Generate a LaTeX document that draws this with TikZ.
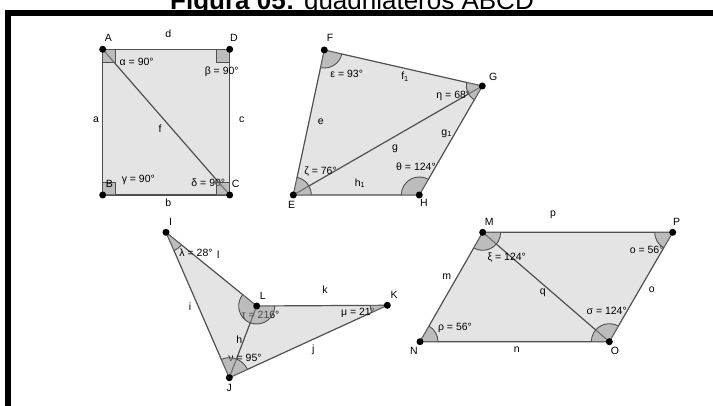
\documentclass[tikz,border=0pt]{standalone}
\usepackage{fontspec}
\setmainfont{Liberation Sans}
\usetikzlibrary{angles}
\definecolor{polyfill}{RGB}{228,228,228}
\definecolor{edgecol}{RGB}{80,80,80}
\definecolor{angfill}{RGB}{150,150,150}
\begin{document}
\begin{tikzpicture}[x=1pt,y=1pt,
  poly/.style={fill=polyfill, draw=edgecol, line width=1.2pt, line join=round},
  edge/.style={draw=edgecol, line width=1.2pt},
  pt/.style={circle, fill=black, inner sep=0pt, minimum size=7pt},
  lbl/.style={font=\fontsize{10.5}{12}\selectfont, inner sep=0pt, text=black},
  ang/.style={draw=edgecol, fill=angfill, fill opacity=0.5, line width=0.9pt, angle radius=18pt},
  rsq/.style={draw=edgecol, fill=angfill, fill opacity=0.5, line width=0.9pt}]
\useasboundingbox (0,0) rectangle (713,405);

% title and frame
\node[anchor=base west, inner sep=0pt, font=\fontsize{26}{30}\selectfont] (title) at (170,395) {\textbf{Figura 05:} quadriláteros ABCD};
\draw[line width=6pt] (8,-20) -- (8,391.6) -- (740,391.6);

% points
\coordinate (A) at (102.7,355.7);
\coordinate (D) at (229.7,355.7);
\coordinate (B) at (102.7,210);
\coordinate (C) at (229.7,210);
\coordinate (F) at (324.3,355);
\coordinate (G) at (482.3,319);
\coordinate (H) at (419.3,210);
\coordinate (E) at (293.3,210);
\coordinate (I) at (166,172.7);
\coordinate (L) at (256.7,99);
\coordinate (K) at (387.3,99.7);
\coordinate (J) at (229.3,27.3);
\coordinate (M) at (482.7,172.7);
\coordinate (P) at (672.7,172.7);
\coordinate (N) at (420,63.3);
\coordinate (O) at (609.3,63.3);

% polygons
\path[poly] (A) -- (D) -- (C) -- (B) -- cycle;
\draw[edge] (A) -- (C);
\path[poly] (E) -- (F) -- (G) -- (H) -- cycle;
\draw[edge] (E) -- (G);
\path[poly] (I) -- (L) -- (K) -- (J) -- cycle;
\draw[edge] (L) -- (J);
\path[poly] (M) -- (P) -- (O) -- (N) -- cycle;
\draw[edge] (M) -- (O);

% side labels
\node[lbl] (ld) at (168.3,371) {d};
\node[lbl] (la) at (96,285.7) {a};
\node[lbl] (lc) at (241.7,285.7) {c};
\node[lbl] (lb) at (168.3,202.3) {b};
\node[lbl] (lf) at (160,276.7) {f};
\node[lbl] (le) at (320.7,283.3) {e};
\node[lbl] (lf1) at (405,328.3) {f\textsubscript{1}};
\node[lbl] (lg1) at (446.7,271.7) {g\textsubscript{1}};
\node[lbl] (lg) at (395,256.7) {g};
\node[lbl] (lh1) at (360,221.7) {h\textsubscript{1}};
\node[lbl] (ll) at (218.3,150) {l};
\node[lbl] (li) at (190,98.3) {i};
\node[lbl] (lk) at (325,115.7) {k};
\node[lbl] (lh) at (239.3,65) {h};
\node[lbl] (lj) at (313.3,55) {j};
\node[lbl] (lp) at (553,190) {p};
\node[lbl] (lm) at (446.7,128.3) {m};
\node[lbl] (lq) at (542.7,112.3) {q};
\node[lbl] (lo) at (651.7,115.7) {o};
\node[lbl] (ln) at (516.7,55.7) {n};

% angle labels
\node[lbl] (alpha) at (136.7,343.3) {α = 90°};
\node[lbl] (beta) at (221.7,333.3) {β = 90°};
\node[lbl] (gamma) at (138.3,225) {γ = 90°};
\node[lbl] (delta) at (208.3,222.3) {δ = 90°};
\node[lbl] (eps) at (346.7,331) {ε = 93°};
\node[lbl] (eta) at (453.3,309) {η = 68°};
\node[lbl] (zeta) at (320.5,233.3) {ζ = 76°};
\node[lbl] (theta) at (416,238.3) {θ = 124°};
\node[lbl] (lambda) at (196,152.3) {λ = 28°};
\node[lbl] (tau) at (260.5,90) {τ = 216°};
\node[lbl] (mu) at (358,91.7) {μ = 21°};
\node[lbl] (nu) at (245,46.7) {ν = 95°};
\node[lbl] (xi) at (506.7,147.7) {ξ = 124°};
\node[lbl] (omi) at (646.7,155) {o = 56°};
\node[lbl] (rho) at (455,76.7) {ρ = 56°};
\node[lbl] (sigma) at (606.7,94.3) {σ = 124°};

% right angles
\path[rsq] (A) rectangle ++(13,-13);
\path[rsq] (D) rectangle ++(-13,-13);
\path[rsq] (B) rectangle ++(13,13);
\path[rsq] (C) rectangle ++(-13,13);

% angle arcs
\pic[ang] {angle=H--E--F};
\pic[ang] {angle=E--F--G};
\pic[ang, angle radius=16pt] {angle=F--G--H};
\pic[ang] {angle=G--H--E};
\pic[ang, angle radius=20pt] {angle=J--I--L};
\pic[ang] {angle=I--L--K};
\pic[ang, angle radius=17pt] {angle=L--K--J};
\pic[ang, angle radius=20pt] {angle=K--J--I};
\pic[ang] {angle=N--M--P};
\pic[ang] {angle=M--P--O};
\pic[ang] {angle=P--O--N};
\pic[ang] {angle=O--N--M};

% dots
\foreach \p in {A,B,C,D,E,F,G,H,I,J,K,L,M,N,O,P}
  \node[pt] (dot\p) at (\p) {};

% vertex labels
\node[lbl] (tA) at (108.3,366.7) {A};
\node[lbl] (tD) at (234,366.7) {D};
\node[lbl] (tB) at (109.3,221) {B};
\node[lbl] (tC) at (235.7,221) {C};
\node[lbl] (tF) at (330,366.7) {F};
\node[lbl] (tG) at (493.3,328.3) {G};
\node[lbl] (tH) at (424,201.7) {H};
\node[lbl] (tE) at (291.7,200) {E};
\node[lbl] (tI) at (170.7,183.3) {I};
\node[lbl] (tL) at (262.7,109) {L};
\node[lbl] (tK) at (394,110) {K};
\node[lbl] (tJ) at (229.3,16.7) {J};
\node[lbl] (tM) at (489.3,183.3) {M};
\node[lbl] (tP) at (676.7,183.3) {P};
\node[lbl] (tN) at (414,54.3) {N};
\node[lbl] (tO) at (615,54.3) {O};
\end{tikzpicture}
\end{document}
